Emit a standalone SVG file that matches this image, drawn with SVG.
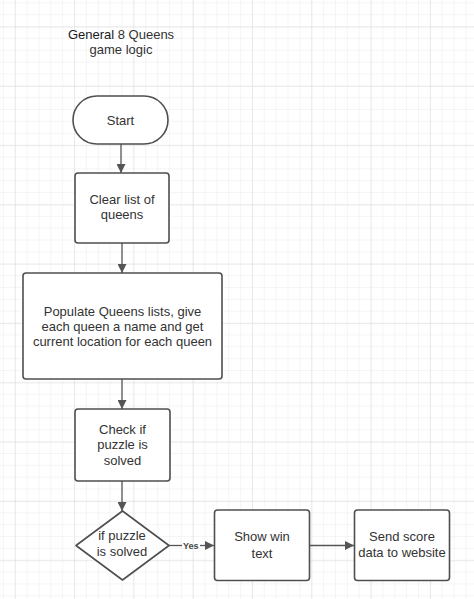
<svg xmlns="http://www.w3.org/2000/svg" width="474" height="599" viewBox="0 0 474 599">
<defs>
<pattern id="minor" x="2.9" y="2.3" width="11.86" height="11.86" patternUnits="userSpaceOnUse">
<path d="M0 0H11.86M0 0V11.86" fill="none" stroke="#ebebeb" stroke-width="1"/>
</pattern>
<pattern id="major" x="14.8" y="26.6" width="59.3" height="59.3" patternUnits="userSpaceOnUse">
<path d="M0 0H59.3M0 0V59.3" fill="none" stroke="#dcdcdc" stroke-width="1"/>
</pattern>
<marker id="arr" viewBox="0 0 10 10" refX="10" refY="5" markerWidth="9" markerHeight="9" markerUnits="userSpaceOnUse" orient="auto">
<path d="M0 0L10 5L0 10Z" fill="#555"/>
</marker>
</defs>
<style>
.n{fill:#fff;stroke:#4f4f4f;stroke-width:1.6}
.t{font-family:"Liberation Sans",Arial,sans-serif;font-size:13px;fill:#333;text-anchor:middle}
.c{fill:none;stroke:#555;stroke-width:1.3}
.y{font-family:"Liberation Sans",Arial,sans-serif;font-size:9px;font-weight:bold;fill:#444}
</style>
<rect width="474" height="599" fill="#fff"/>
<rect width="474" height="599" fill="url(#minor)"/>
<rect width="474" height="599" fill="url(#major)"/>
<g id="title">
<text class="t" x="121" y="39"><tspan fill="#1a1a1a">General</tspan> 8 Queens</text>
<text class="t" x="121" y="54">game logic</text>
</g>
<g id="connectors">
<path class="c" d="M121 144V173" marker-end="url(#arr)"/>
<path class="c" d="M122 243V273" marker-end="url(#arr)"/>
<path class="c" d="M122 379V409" marker-end="url(#arr)"/>
<path class="c" d="M122 481V511" marker-end="url(#arr)"/>
<path class="c" d="M169 545.5H182"/>
<path class="c" d="M200 545.5H214" marker-end="url(#arr)"/>
<text class="y" x="183" y="548.5">Yes</text>
<path class="c" d="M309 545.5H354" marker-end="url(#arr)"/>
</g>
<g id="start">
<rect class="n" x="73" y="96" width="95" height="48" rx="24"/>
<text class="t" x="120.5" y="124.5">Start</text>
</g>
<g id="clear">
<rect class="n" x="75" y="173" width="94" height="70" rx="3"/>
<text class="t" x="122" y="203.5">Clear list of</text>
<text class="t" x="122" y="218.5">queens</text>
</g>
<g id="populate">
<rect class="n" x="23" y="273" width="199" height="106" rx="3"/>
<text class="t" x="122.5" y="316">Populate Queens lists, give</text>
<text class="t" x="122.5" y="331">each queen a name and get</text>
<text class="t" x="122.5" y="346">current location for each queen</text>
</g>
<g id="check">
<rect class="n" x="75" y="409" width="95" height="72" rx="3"/>
<text class="t" x="122.5" y="433.5">Check if</text>
<text class="t" x="122.5" y="449">puzzle is</text>
<text class="t" x="122.5" y="464.5">solved</text>
</g>
<g id="decision">
<path class="n" d="M122.5 511L169 545.5L122.5 580L76 545.5Z" stroke-linejoin="round"/>
<text class="t" x="122" y="539.5">if puzzle</text>
<text class="t" x="122" y="556">is solved</text>
</g>
<g id="showwin">
<rect class="n" x="214.5" y="510" width="95" height="70.5" rx="3"/>
<text class="t" x="262" y="541">Show win</text>
<text class="t" x="262" y="557.5">text</text>
</g>
<g id="sendscore">
<rect class="n" x="354.5" y="510" width="95" height="70.5" rx="3"/>
<text class="t" x="402" y="540.5">Send score</text>
<text class="t" x="402" y="557">data to website</text>
</g>
</svg>
